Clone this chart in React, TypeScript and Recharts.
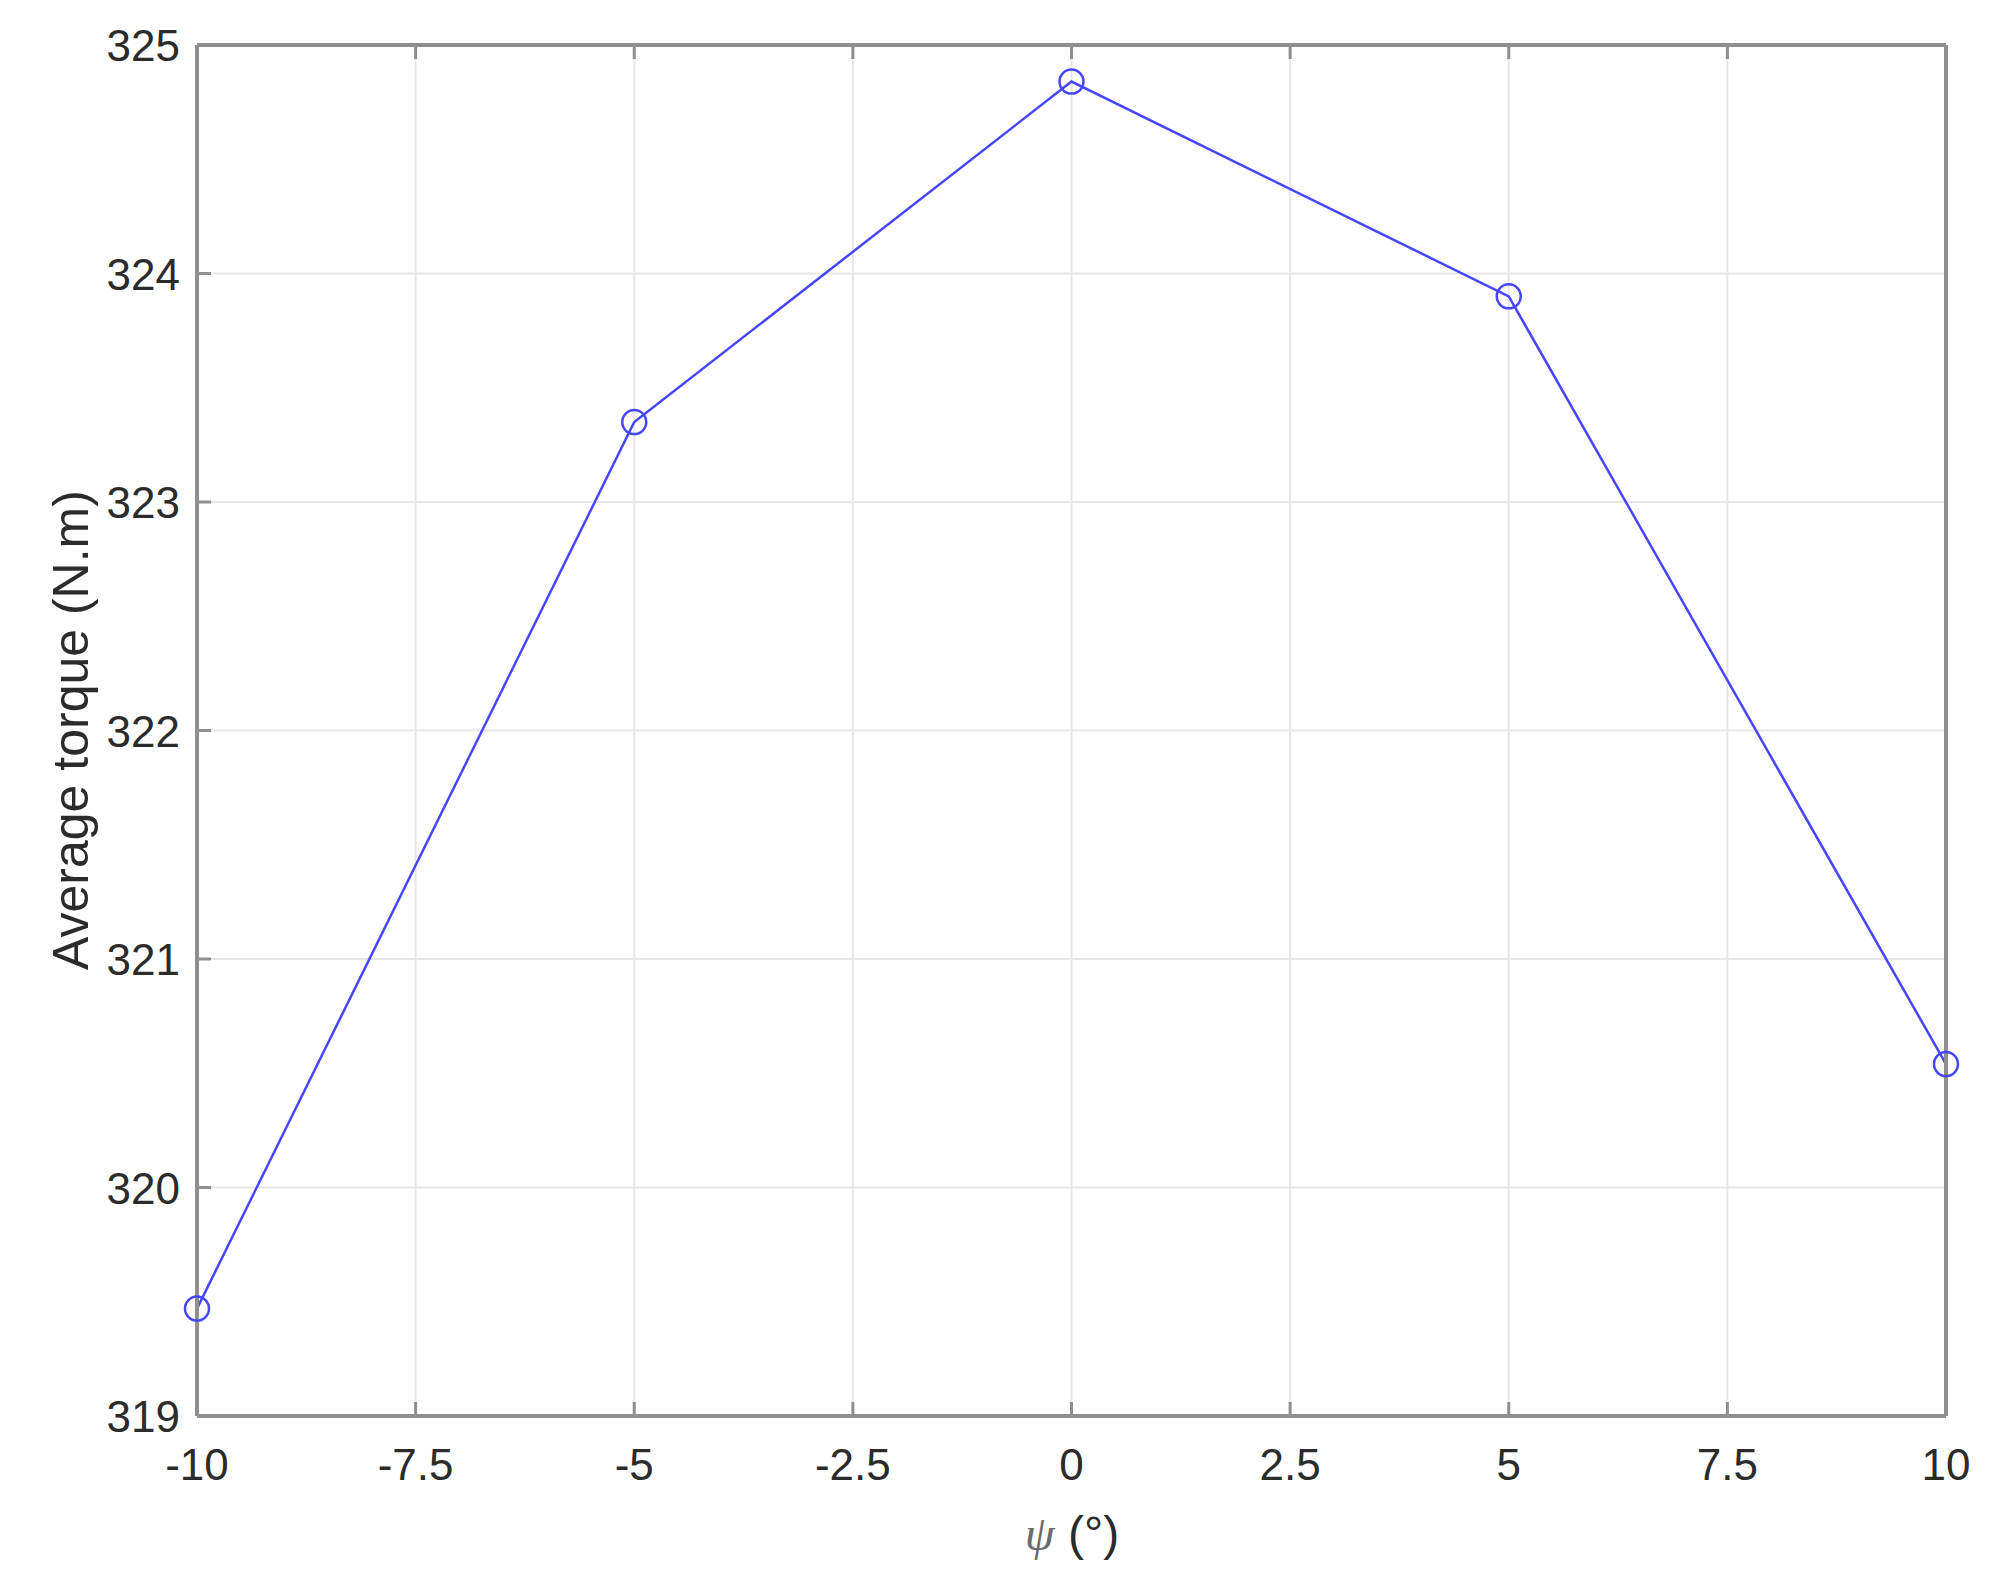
import React from "react";
import { LineChart, Line, XAxis, YAxis, CartesianGrid, Label } from "recharts";

const psiValues = [-10, -5, 0, 5, 10];
const avgTorque = [319.47, 323.35, 324.84, 323.9, 320.54];
const xTicks = [-10, -7.5, -5, -2.5, 0, 2.5, 5, 7.5, 10];
const yTicks = [319, 320, 321, 322, 323, 324, 325];

const data = psiValues.map((x, i) => ({ x, y: avgTorque[i] }));

const FONT = "'Liberation Sans', Arial, Helvetica, sans-serif";
const TEXT = "#2b2b2b";
const AXIS = "#8f8f8f";
const LINE = "#4646ff";
const TICK_LEN = 14;

const BottomTick = (props: any) => {
  const { x, y, payload } = props;
  return (
    <g>
      <line x1={x} y1={y} x2={x} y2={y - TICK_LEN} stroke={AXIS} strokeWidth={3} />
      <text x={x} y={y + 64} textAnchor="middle" fontFamily={FONT} fontSize={44} fill={TEXT}>
        {String(payload.value)}
      </text>
    </g>
  );
};

const TopTick = (props: any) => {
  const { x, y } = props;
  return <line x1={x} y1={y} x2={x} y2={y + TICK_LEN} stroke={AXIS} strokeWidth={3} />;
};

const LeftTick = (props: any) => {
  const { x, y, payload } = props;
  return (
    <g>
      <line x1={x} y1={y} x2={x + TICK_LEN} y2={y} stroke={AXIS} strokeWidth={3} />
      <text x={x - 17} y={y + 16} textAnchor="end" fontFamily={FONT} fontSize={44} fill={TEXT}>
        {String(payload.value)}
      </text>
    </g>
  );
};

const RightTick = (props: any) => {
  const { x, y } = props;
  return <line x1={x} y1={y} x2={x - TICK_LEN} y2={y} stroke={AXIS} strokeWidth={3} />;
};

export default function App() {
  return (
    <div style={{ position: "absolute", left: 0, top: 0, width: 2006, height: 1590, background: "#fff" }}>
      <LineChart width={2006} height={1590} data={data} margin={{ top: 0, right: 0, bottom: 0, left: 0 }}>
        <CartesianGrid xAxisId="bottom" yAxisId="left" stroke="#e6e6e6" strokeWidth={2} />
        <XAxis
          xAxisId="bottom"
          dataKey="x"
          type="number"
          domain={[-10, 10]}
          ticks={xTicks}
          orientation="bottom"
          height={174}
          tickSize={0}
          tickMargin={0}
          tickLine={false}
          axisLine={{ stroke: AXIS, strokeWidth: 4 }}
          tick={<BottomTick />}
          interval={0}
        >
          <Label
            content={() => (
              <text x={1072} y={1550} textAnchor="middle" fontSize={48} fill={TEXT} fontFamily={FONT}>
                <tspan fontFamily="'Liberation Serif', 'DejaVu Serif', serif" fontStyle="italic" fill="#6a6a6a">ψ</tspan>
                <tspan> (°)</tspan>
              </text>
            )}
          />
        </XAxis>
        <XAxis
          xAxisId="top"
          dataKey="x"
          type="number"
          domain={[-10, 10]}
          ticks={xTicks}
          orientation="top"
          height={45}
          tickSize={0}
          tickMargin={0}
          tickLine={false}
          axisLine={{ stroke: AXIS, strokeWidth: 4 }}
          tick={<TopTick />}
          interval={0}
        />
        <YAxis
          yAxisId="left"
          type="number"
          domain={[319, 325]}
          ticks={yTicks}
          orientation="left"
          width={197}
          tickSize={0}
          tickMargin={0}
          tickLine={false}
          axisLine={{ stroke: AXIS, strokeWidth: 4 }}
          tick={<LeftTick />}
          interval={0}
        >
          <Label
            content={() => (
              <text
                x={88}
                y={730}
                transform="rotate(-90 88 730)"
                textAnchor="middle"
                fontSize={50}
                fill={TEXT}
                fontFamily={FONT}
              >
                Average torque (N.m)
              </text>
            )}
          />
        </YAxis>
        <YAxis
          yAxisId="right"
          type="number"
          domain={[319, 325]}
          ticks={yTicks}
          orientation="right"
          width={60}
          tickSize={0}
          tickMargin={0}
          tickLine={false}
          axisLine={{ stroke: AXIS, strokeWidth: 4 }}
          tick={<RightTick />}
          interval={0}
        />
        <Line
          xAxisId="bottom"
          yAxisId="left"
          type="linear"
          dataKey="y"
          stroke={LINE}
          strokeWidth={2.5}
          dot={{ r: 12, stroke: LINE, strokeWidth: 2.5, fill: "none" }}
          activeDot={false}
          isAnimationActive={false}
        />
      </LineChart>
    </div>
  );
}
